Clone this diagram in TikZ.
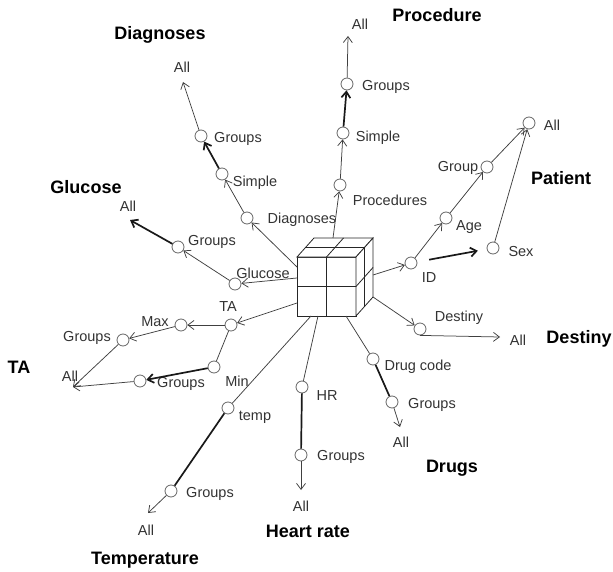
\documentclass[tikz,border=0pt]{standalone}
\usepackage{fontspec}
\setmainfont{Liberation Sans}
\usetikzlibrary{arrows.meta}
\begin{document}
\begin{tikzpicture}[x=1pt,y=-1pt,
  dot/.style={circle,draw=black!60,line width=0.8pt,fill=white,minimum size=12pt,inner sep=0pt},
  lbl/.style={font=\fontsize{14.5}{16}\selectfont,text=black!80,inner sep=1pt},
  ttl/.style={font=\fontsize{18}{20}\selectfont\bfseries,text=black,inner sep=1pt},
  ln/.style={draw=black!75,line width=0.75pt},
  arr/.style={ln,-{Straight Barb[length=6pt,width=9pt]}},
  thk/.style={line width=1.7pt,draw=black!90},
  cubeln/.style={draw=black!85,line width=0.8pt}]
\useasboundingbox (0,0) rectangle (613,572);

% ---------- cube ----------
\coordinate (F1) at (297,257); \coordinate (F2) at (356,257);
\coordinate (F3) at (356,316); \coordinate (F4) at (297,316);
\coordinate (B1) at (314,238); \coordinate (B2) at (373,238);
\coordinate (B3) at (373,297);
\draw[cubeln,fill=white] (F1) -- (F2) -- (F3) -- (F4) -- cycle;
\draw[cubeln,fill=white] (F1) -- (B1) -- (B2) -- (F2) -- cycle;
\draw[cubeln,fill=white] (F2) -- (B2) -- (B3) -- (F3) -- cycle;
\draw[cubeln] (326.5,257) -- (326.5,316);
\draw[cubeln] (297,286.5) -- (356,286.5);
\draw[cubeln] (326.5,257) -- (343.5,238);
\draw[cubeln] (305.5,247.5) -- (364.5,247.5);
\draw[cubeln] (364.5,247.5) -- (364.5,306.5);
\draw[cubeln] (356,286.5) -- (373,267.5);

% attachment points on the cube
\coordinate (cP) at (333,238);
\coordinate (cD) at (297,267);
\coordinate (cG) at (297,278);
\coordinate (cTA) at (297,303);
\coordinate (cT) at (311,316);
\coordinate (cH) at (318,316);
\coordinate (cDr) at (346,316);
\coordinate (cDe) at (373,297);
\coordinate (cID) at (373,275);

% ---------- Procedure ----------
\node[dot] (pP) at (340,185) {};
\node[dot] (pS) at (343,133) {};
\node[dot] (pG) at (347,84) {};
\node[lbl] (lpP) at (390,200) {Procedures};
\node[lbl] (lpS) at (378,138) {Simple};
\node[lbl] (lpG) at (386,87) {Groups};
\node[lbl] (lpA) at (360,24) {All};
\coordinate (tpA) at (348,36);
\node[ttl] (tP) at (437,15) {Procedure};
\draw[arr] (cP) -- (pP);
\draw[arr] (pP) -- (pS);
\draw[arr,thk] (pS) -- (pG);
\draw[arr] (pG) -- (tpA);

% ---------- Diagnoses ----------
\node[dot] (dD) at (247,218) {};
\node[dot] (dS) at (222,174) {};
\node[dot] (dG) at (201,136) {};
\node[lbl] (ldD) at (302,220) {Diagnoses};
\node[lbl] (ldS) at (255,183) {Simple};
\node[lbl] (ldG) at (238,139) {Groups};
\node[lbl] (ldA) at (182,67) {All};
\coordinate (tdA) at (183,82);
\node[ttl] (tD) at (160,35) {Diagnoses};
\draw[arr] (cD) -- (dD);
\draw[arr] (dD) -- (dS);
\draw[arr,thk] (dS) -- (dG);
\draw[arr] (dG) -- (tdA);

% ---------- Glucose ----------
\node[dot] (gG) at (235,284) {};
\node[dot] (gR) at (178,247) {};
\node[lbl] (lgG) at (263,273) {Glucose};
\node[lbl] (lgR) at (212,242) {Groups};
\node[lbl] (lgA) at (128,206) {All};
\coordinate (tgA) at (130,220);
\node[ttl] (tG) at (86,187) {Glucose};
\draw[arr] (cG) -- (gG);
\draw[arr] (gG) -- (gR);
\draw[arr,thk] (gR) -- (tgA);

% ---------- TA ----------
\node[dot] (aT) at (231,325) {};
\node[dot] (aM) at (181,325) {};
\node[dot] (aG) at (123,340) {};
\node[dot] (aN) at (214,367) {};
\node[dot] (aH) at (140,381) {};
\node[lbl] (laT) at (228,307) {TA};
\node[lbl] (laM) at (155,322) {Max};
\node[lbl] (laG) at (87,338) {Groups};
\node[lbl] (laN) at (237,381) {Min};
\node[lbl] (laH) at (181,384) {Groups};
\node[lbl] (laA) at (70,376) {All};
\coordinate (taA) at (73,387);
\node[ttl] (tA) at (19,367) {TA};
\draw[arr] (cTA) -- (aT);
\draw[arr] (aT) -- (aM);
\draw[arr] (aM) -- (aG);
\draw[arr] (aG) -- (taA);
\draw[ln] (aT) -- (aN);
\draw[arr,thk] (aN) -- (aH);
\draw[arr] (aH) -- (taA);

% ---------- Temperature ----------
\node[dot] (eT) at (228,408) {};
\node[dot] (eG) at (171,491) {};
\node[lbl] (leT) at (255,417) {temp};
\node[lbl] (leG) at (210,494) {Groups};
\node[lbl] (leA) at (146,530) {All};
\coordinate (teA) at (148,513);
\node[ttl] (tT) at (145,560) {Temperature};
\draw[ln] (cT) -- (eT);
\draw[ln,thk] (eT) -- (eG);
\draw[arr] (eG) -- (teA);

% ---------- Heart rate ----------
\node[dot] (hH) at (302,387) {};
\node[dot] (hG) at (301,455) {};
\node[lbl] (lhH) at (327,396) {HR};
\node[lbl] (lhG) at (341,457) {Groups};
\node[lbl] (lhA) at (301,506) {All};
\coordinate (thA) at (301,490);
\node[ttl] (tH) at (308,531) {Heart rate};
\draw[ln] (cH) -- (hH);
\draw[ln,thk] (hH) -- (hG);
\draw[arr] (hG) -- (thA);

% ---------- Drugs ----------
\node[dot] (rD) at (373,359) {};
\node[dot] (rG) at (392,402) {};
\node[lbl] (lrD) at (418,367) {Drug code};
\node[lbl] (lrG) at (432,405) {Groups};
\node[lbl] (lrA) at (401,442) {All};
\coordinate (trA) at (400,427);
\node[ttl] (tR) at (452,468) {Drugs};
\draw[ln] (cDr) -- (rD);
\draw[ln,thk] (rD) -- (rG);
\draw[arr] (rG) -- (trA);

% ---------- Destiny ----------
\node[dot] (sD) at (420,329) {};
\node[lbl] (lsD) at (459,318) {Destiny};
\node[lbl] (lsA) at (518,340) {All};
\coordinate (tsA) at (500,337);
\node[ttl] (tS) at (579,339) {Destiny};
\draw[arr] (cDe) -- (sD);
\draw[arr] (sD.south) -- (tsA);

% ---------- Patient ----------
\node[dot] (iI) at (411,263) {};
\node[dot] (iA) at (446,218) {};
\node[dot] (iG) at (487,167) {};
\node[dot] (iL) at (529,123) {};
\node[dot] (iS) at (493,248) {};
\node[lbl] (liI) at (429,278) {ID};
\node[lbl] (liA) at (469,227) {Age};
\node[lbl] (liG) at (458,168) {Group};
\node[lbl] (liL) at (552,125) {All};
\node[lbl] (liS) at (521,252) {Sex};
\node[ttl] (tI) at (561,178) {Patient};
\draw[arr] (cID) -- (iI);
\draw[arr] (iI) -- (iA);
\draw[arr] (iA) -- (iG);
\draw[arr] (iG) -- (iL);
\draw[arr] (iS) -- (iL);
\draw[arr,thk,shorten <=12pt,shorten >=9pt] (iI) -- (iS);
\end{tikzpicture}
\end{document}
